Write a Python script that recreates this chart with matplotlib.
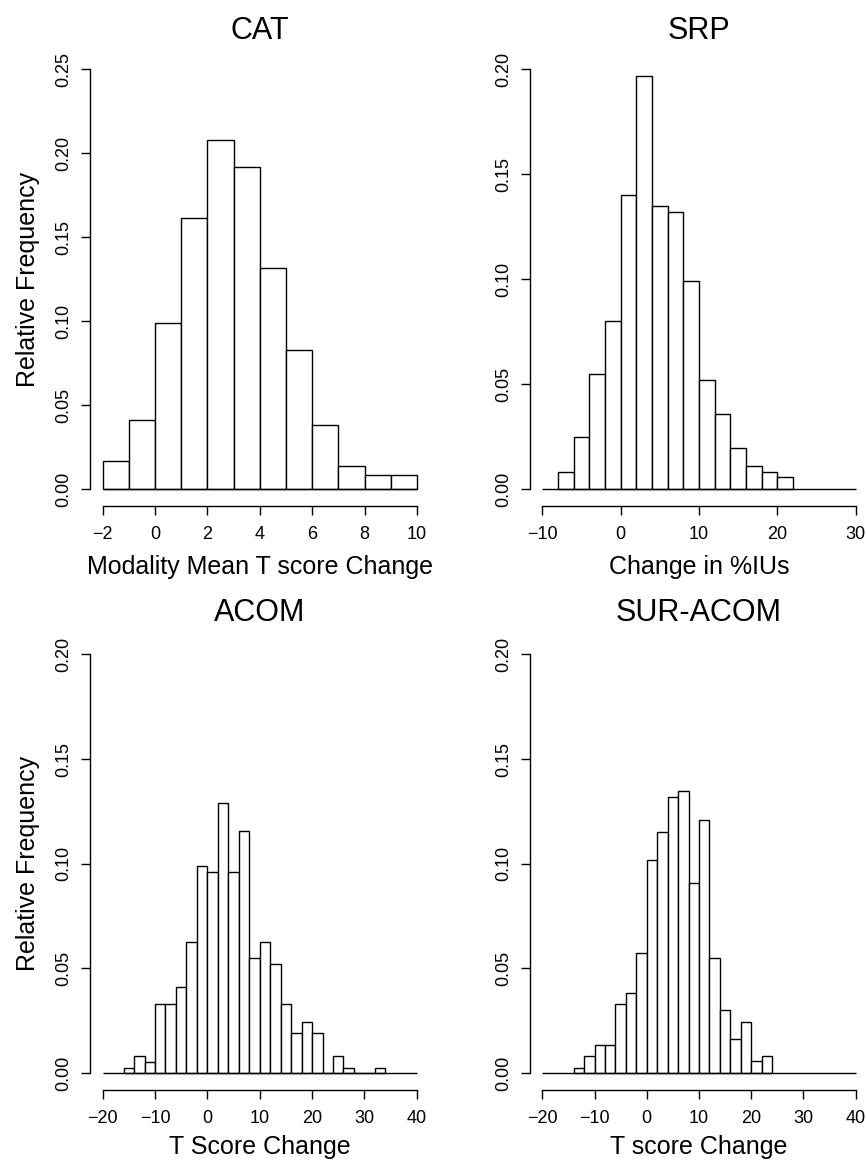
import numpy as np
import matplotlib
matplotlib.use("Agg")
import matplotlib.pyplot as plt

plt.rcParams['font.family'] = ['Liberation Sans', 'DejaVu Sans']

# CAT: bins of width 1 starting at -2
cat_start = -2
cat_width = 1
cat_freq = [0.0167, 0.0413, 0.099, 0.1617, 0.208, 0.192, 0.1317,
            0.0827, 0.0383, 0.0139, 0.0083, 0.0083]

# SRP: bins of width 2 starting at -8
srp_start = -8
srp_width = 2
srp_freq = [0.0083, 0.0247, 0.0549, 0.0799, 0.1403, 0.197, 0.1348, 0.1321,
            0.099, 0.0522, 0.0357, 0.0194, 0.0111, 0.0083, 0.0056]

# ACOM: bins of width 2 starting at -16
acom_start = -16
acom_width = 2
acom_freq = [0.0027, 0.0083, 0.0053, 0.033, 0.033, 0.041, 0.0628, 0.099,
             0.0962, 0.129, 0.0962, 0.1155, 0.0549, 0.0628, 0.052, 0.033,
             0.0192, 0.0246, 0.0192, 0.0, 0.0083, 0.0027, 0.0, 0.0, 0.0027]

# SUR-ACOM: bins of width 2 starting at -14
sur_start = -14
sur_width = 2
sur_freq = [0.0027, 0.0083, 0.0137, 0.0137, 0.0329, 0.0383, 0.0576, 0.1017,
            0.1153, 0.1319, 0.1346, 0.091, 0.1208, 0.0549, 0.0301, 0.0164,
            0.0246, 0.0057, 0.0083]

titles = ["CAT", "SRP", "ACOM", "SUR-ACOM"]
xlabels = ["Modality Mean T score Change", "Change in %IUs",
           "T Score Change", "T score Change"]
xticks_list = [[-2, 0, 2, 4, 6, 8, 10],
               [-10, 0, 10, 20, 30],
               [-20, -10, 0, 10, 20, 30, 40],
               [-20, -10, 0, 10, 20, 30, 40]]
yticks_list = [[0.00, 0.05, 0.10, 0.15, 0.20, 0.25],
               [0.00, 0.05, 0.10, 0.15, 0.20],
               [0.00, 0.05, 0.10, 0.15, 0.20],
               [0.00, 0.05, 0.10, 0.15, 0.20]]

W, H = 866, 1164
fig = plt.figure(figsize=(W / 100, H / 100), dpi=100)


def px_rect(left, top, right, bottom):
    return [left / W, 1 - bottom / H, (right - left) / W, (bottom - top) / H]


rects = [px_rect(90.1, 52.7, 429.6, 505.8),
         px_rect(529.8, 52.7, 868.2, 505.8),
         px_rect(90.1, 637.5, 429.3, 1090),
         px_rect(529.8, 637.5, 868.2, 1090)]

hists = [(cat_start, cat_width, cat_freq),
         (srp_start, srp_width, srp_freq),
         (acom_start, acom_width, acom_freq),
         (sur_start, sur_width, sur_freq)]

for i in range(4):
    ax = fig.add_axes(rects[i])
    start, width, freq = hists[i]
    freq = np.array(freq)
    lefts = start + width * np.arange(len(freq))
    xt = xticks_list[i]
    yt = yticks_list[i]

    ax.hlines(0, xt[0], xt[-1], color='black', lw=1.0)
    ax.bar(lefts, freq, width=width, align='edge', facecolor='white',
           edgecolor='black', linewidth=1.0)

    # R style 4% padding
    xr = xt[-1] - xt[0]
    yr = yt[-1] - yt[0]
    ax.set_xlim(xt[0] - 0.04 * xr, xt[-1] + 0.04 * xr)
    ax.set_ylim(yt[0] - 0.04 * yr, yt[-1] + 0.04 * yr)

    ax.set_xticks(xt)
    ax.set_yticks(yt)
    ax.set_yticklabels(["%.2f" % v for v in yt])
    ax.spines['top'].set_visible(False)
    ax.spines['right'].set_visible(False)
    ax.spines['left'].set_bounds(yt[0], yt[-1])
    ax.spines['bottom'].set_bounds(xt[0], xt[-1])
    ax.spines['left'].set_linewidth(1.0)
    ax.spines['bottom'].set_linewidth(1.0)
    ax.tick_params(axis='both', length=6.5, width=1.0, labelsize=13,
                   colors='black')
    ax.tick_params(axis='x', pad=8)
    ax.tick_params(axis='y', pad=6, labelrotation=90)
    for lab in ax.get_yticklabels():
        lab.set_va('center')

    top_row = i < 2
    ax.set_title(titles[i], fontsize=22, pad=10 if top_row else 12)
    ax.set_xlabel(xlabels[i], fontsize=18, labelpad=9 if top_row else 6)
    if i % 2 == 0:
        ax.set_ylabel("Relative Frequency", fontsize=18, labelpad=11)

fig.savefig("out.png", dpi=100)
